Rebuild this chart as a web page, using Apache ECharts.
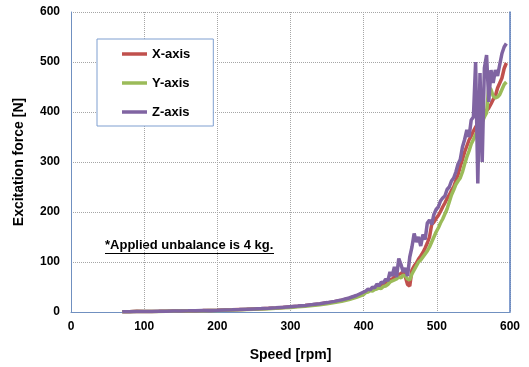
<!DOCTYPE html>
<html>
<head>
<meta charset="utf-8">
<script src="https://cdn.jsdelivr.net/npm/echarts@6/dist/echarts.min.js"></script>
<style>
  html, body { margin: 0; padding: 0; background: #fff; }
  #main { width: 529px; height: 367px; }
</style>
</head>
<body>
<div id="main"></div>
<script>
// 转速 (rpm)
var speed = [70, 80, 90, 100, 110, 120, 130, 140, 150, 160, 170, 180, 190, 200, 210, 220, 230, 240, 250,
    260, 270, 280, 290, 300, 310, 320, 330, 340, 350, 360, 370, 380, 390, 400,
    403, 406, 409, 412, 415, 418, 421, 424, 427, 430, 433, 436, 439, 442, 445, 448, 451, 454, 457, 460,
    463, 466, 469, 472, 475, 478, 481, 484, 487, 490, 493, 496, 499, 502, 505, 508, 511, 514, 517, 520,
    523, 526, 529, 532, 535, 538, 541, 544, 547, 550, 553, 556, 559, 562, 565, 568, 571, 574, 577, 580,
    583, 586, 589, 592, 595];

// 激振力 (N)
var forceX = [0.5, 0.7, 1.5, 1, 1.2, 1.3, 1.6, 1.8, 2, 2.2, 2.6, 2.8, 3.2, 3.6, 4.2, 4.4, 4.9, 5.4, 6,
    6.6, 7.3, 8.1, 9.2, 10.3, 11.5, 12.9, 14.4, 16.2, 18.3, 20.8, 23.6, 27.3, 32, 38,
    41, 43, 45, 47, 48, 51, 52, 55, 56, 59, 60, 64, 66, 70, 72, 75, 77, 80, 70, 55,
    52, 84, 92, 98, 106, 112, 119, 128, 138, 150, 175, 180, 187, 193, 201, 210, 218, 227, 234, 243,
    250, 263, 275, 291, 305, 320, 332, 344, 352, 362, 370, 376, 382, 391, 397, 403, 408, 416, 425, 432,
    448, 458, 468, 487, 498];

var forceY = [0.4, 0.6, 0.8, 0.9, 1.1, 1.2, 1.4, 1.6, 1.8, 2, 2.3, 2.6, 2.9, 3.2, 3.6, 4, 4.5, 5, 5.5,
    6, 6.7, 7.4, 8.3, 9.2, 10.4, 11.6, 13, 14.6, 16.5, 18.8, 21.4, 25, 29.5, 35,
    39, 40, 43, 42, 45, 46, 48, 47, 51, 52, 55, 60, 62, 64, 66, 70, 68, 74, 72, 66,
    64, 76, 84, 92, 100, 104, 110, 116, 122, 130, 140, 150, 160, 168, 178, 186, 196, 206, 220, 234,
    244, 255, 262, 268, 280, 296, 310, 322, 336, 345, 355, 362, 372, 380, 390, 398, 450, 445, 432, 428,
    430, 435, 445, 455, 460];

var forceZ = [0.5, 0.7, 0.9, 1, 1.2, 1.4, 1.6, 1.9, 2.1, 2.3, 2.6, 2.9, 3.2, 3.6, 4.1, 4.5, 5, 5.6, 6.2,
    6.8, 7.5, 8.4, 9.4, 10.6, 11.8, 13.2, 14.8, 16.6, 18.8, 21.3, 24.3, 28, 33, 40,
    42, 46, 44, 50, 48, 56, 52, 60, 58, 66, 62, 80, 72, 90, 70, 107, 95, 80, 88, 72,
    110, 130, 157, 140, 150, 132, 155, 145, 178, 184, 175, 195, 205, 210, 222, 228, 232, 245, 250, 262,
    268, 280, 296, 305, 330, 345, 364, 350, 384, 390, 500, 257, 478, 300, 488, 514, 420, 484, 458, 484,
    472, 495, 517, 530, 537];

var seriesNames = ['X-axis', 'Y-axis', 'Z-axis'];
var seriesColors = ['#c0504d', '#9bbb59', '#8064a2'];

function pairs(ys) {
    return speed.map(function (s, i) { return [s, ys[i]]; });
}

var myChart = echarts.init(document.getElementById('main'));

var labelFont = {
    color: '#000',
    fontFamily: 'Liberation Sans, Arial, sans-serif',
    fontWeight: 'bold',
    fontSize: 12
};

var option = {
    animation: false,
    grid: { left: 71, right: 19, top: 12, bottom: 55 },
    legend: {
        orient: 'vertical',
        left: 97,
        top: 39,
        padding: [8, 23, 7, 25],
        icon: 'rect',
        itemGap: 15,
        itemWidth: 25,
        itemHeight: 3.5,
        backgroundColor: '#fff',
        borderColor: '#7f9fd0',
        borderWidth: 1,
        textStyle: {
            color: '#000',
            fontFamily: 'Liberation Sans, Arial, sans-serif',
            fontWeight: 'bold',
            fontSize: 13,
            lineHeight: 14
        },
        data: seriesNames
    },
    xAxis: {
        type: 'value',
        min: 0,
        max: 600,
        interval: 100,
        name: 'Speed [rpm]',
        nameLocation: 'middle',
        nameGap: 36,
        nameTextStyle: {
            color: '#000',
            fontFamily: 'Liberation Sans, Arial, sans-serif',
            fontWeight: 'bold',
            fontSize: 14
        },
        axisLine: { show: true, lineStyle: { color: '#7090c0', width: 1 } },
        axisTick: { show: false },
        axisLabel: Object.assign({ margin: 9 }, labelFont),
        splitLine: { show: true, lineStyle: { color: '#a6a6a6', type: 'dotted', width: 1 } }
    },
    yAxis: [{
        type: 'value',
        min: 0,
        max: 600,
        interval: 100,
        name: 'Excitation force [N]',
        nameLocation: 'middle',
        nameGap: 45,
        nameTextStyle: {
            color: '#000',
            fontFamily: 'Liberation Sans, Arial, sans-serif',
            fontWeight: 'bold',
            fontSize: 14
        },
        axisLine: { show: true, lineStyle: { color: '#7090c0', width: 1 } },
        axisTick: { show: false },
        axisLabel: Object.assign({ margin: 11 }, labelFont),
        splitLine: { show: true, lineStyle: { color: '#a6a6a6', type: 'dotted', width: 1 } }
    }, {
        // 右侧边框
        type: 'value',
        position: 'right',
        min: 0,
        max: 600,
        axisLine: { show: true, lineStyle: { color: '#5b7fbf', width: 1.5 } },
        axisTick: { show: false },
        axisLabel: { show: false },
        splitLine: { show: false }
    }],
    graphic: [{
        type: 'text',
        left: 105,
        top: 239,
        style: {
            text: '*Applied unbalance is 4 kg.',
            fill: '#000',
            fontFamily: 'Liberation Sans',
            fontWeight: 'bold',
            fontSize: 13
        }
    }, {
        type: 'line',
        shape: { x1: 105, y1: 253.5, x2: 274, y2: 253.5 },
        style: { stroke: '#000', lineWidth: 1 }
    }],
    series: seriesNames.map(function (name, i) {
        return {
            name: name,
            type: 'line',
            symbol: 'none',
            color: seriesColors[i],
            lineStyle: { width: 3.5, color: seriesColors[i] },
            data: pairs([forceX, forceY, forceZ][i])
        };
    })
};

myChart.setOption(option);
</script>
</body>
</html>
